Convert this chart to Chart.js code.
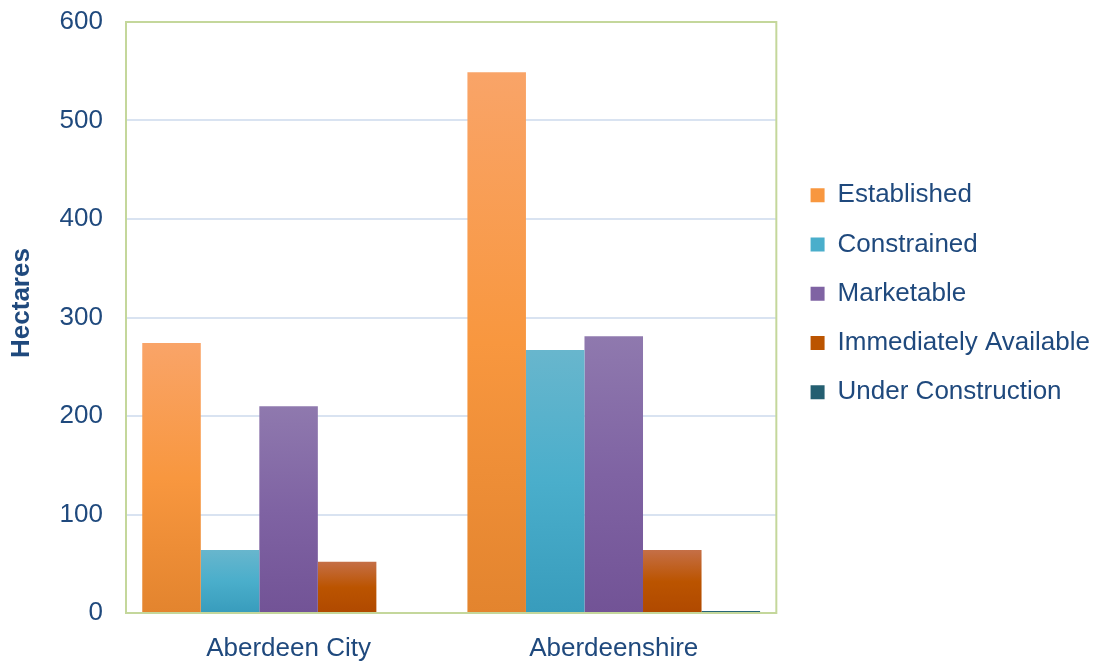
<!DOCTYPE html>
<html>
<head>
<meta charset="utf-8">
<script src="https://cdn.jsdelivr.net/npm/chart.js@4/dist/chart.umd.min.js"></script>
<style>
html,body{margin:0;padding:0;background:#fff;}
#wrap{width:1110px;height:661px;position:relative;}
</style>
</head>
<body>
<div id="wrap"><canvas id="c"></canvas></div>
<script>
const categories = ['Aberdeen City', 'Aberdeenshire'];
const established = [274, 549];
const constrained = [64, 267];
const marketable = [210, 281];
const immediatelyAvailable = [52, 64];
const underConstruction = [0, 2];
const seriesNames = ['Established', 'Constrained', 'Marketable', 'Immediately Available', 'Under Construction'];
const yTicks = [0, 100, 200, 300, 400, 500, 600];

const TEXT = '#1F497D';
const FONT = '"Liberation Sans", Arial, sans-serif';

// [top, middle, bottom] gradient colours for each series
const palettes = [
  ['#f9a468', '#f8973f', '#e3842e'],
  ['#68b6cd', '#4aaecb', '#389cbc'],
  ['#8f79ae', '#7f63a3', '#725396'],
  ['#c56f47', '#bb5400', '#b04900'],
  ['#2b6a7c', '#245f71', '#1f5566']
];

function gradientFill(idx) {
  return function(ctx) {
    const chart = ctx.chart;
    const p = palettes[idx];
    if (ctx.type !== 'data' || !chart.chartArea || !chart.scales.y) return p[1];
    const y = chart.scales.y;
    const top = y.getPixelForValue(ctx.raw);
    const bot = y.getPixelForValue(0);
    if (Math.abs(bot - top) < 1) return p[1];
    const g = chart.ctx.createLinearGradient(0, top, 0, bot);
    g.addColorStop(0, p[0]);
    g.addColorStop(0.5, p[1]);
    g.addColorStop(1, p[2]);
    return g;
  };
}

const seriesData = [established, constrained, marketable, immediatelyAvailable, underConstruction];
const datasets = seriesNames.map((name, i) => ({
  label: name,
  data: seriesData[i],
  backgroundColor: gradientFill(i),
  borderWidth: 0,
  barPercentage: 1.0,
  categoryPercentage: 0.9
}));

const areaBorder = {
  id: 'areaBorder',
  afterDatasetsDraw(chart) {
    const {ctx, chartArea: a} = chart;
    ctx.save();
    ctx.strokeStyle = '#c4d79b';
    ctx.lineWidth = 2;
    ctx.strokeRect(a.left, a.top, a.right - a.left, a.bottom - a.top);
    ctx.restore();
  }
};

new Chart(document.getElementById('c'), {
  type: 'bar',
  data: { labels: categories, datasets },
  plugins: [areaBorder],
  options: {
    responsive: true,
    maintainAspectRatio: false,
    animation: false,
    devicePixelRatio: 1,
    layout: { padding: { top: 22, right: 10, bottom: 0, left: 0 } },
    plugins: {
      tooltip: { enabled: false },
      legend: {
        position: 'right',
        align: 'start',
        maxWidth: 340,
        title: { display: true, text: '', padding: { top: 125, bottom: 0 }, font: { size: 10 } },
        labels: {
          color: TEXT,
          font: { family: FONT, size: 26 },
          boxWidth: 14,
          boxHeight: 14,
          padding: 23.25,
          generateLabels(chart) {
            return chart.data.datasets.map((ds, i) => ({
              text: ds.label,
              fillStyle: palettes[i][1],
              strokeStyle: palettes[i][1],
              lineWidth: 0,
              hidden: false,
              datasetIndex: i,
              fontColor: TEXT
            }));
          }
        }
      }
    },
    scales: {
      x: {
        grid: { display: false },
        border: { display: false },
        ticks: { color: TEXT, font: { family: FONT, size: 26 }, padding: 12 },
        afterFit(s) { s.height = 48; }
      },
      y: {
        min: 0, max: 600,
        afterBuildTicks(s) { s.ticks = yTicks.map(v => ({ value: v })); },
        grid: { color: '#d9e3f1', lineWidth: 2, drawTicks: true, tickLength: 23, tickColor: 'rgba(0,0,0,0)' },
        border: { display: false },
        ticks: { color: TEXT, font: { family: FONT, size: 26 }, padding: 0 },
        title: { display: true, text: '    Hectares', color: TEXT, font: { family: FONT, size: 26, weight: 'bold' }, padding: { top: 6, bottom: 0 } },
        afterFit(s) { s.width = 126; }
      },
      y2: {
        position: 'right',
        display: true,
        grid: { display: false, drawTicks: false },
        border: { display: false },
        ticks: { display: false },
        afterFit(s) { s.width = 11; }
      }
    }
  }
});
</script>
</body>
</html>
